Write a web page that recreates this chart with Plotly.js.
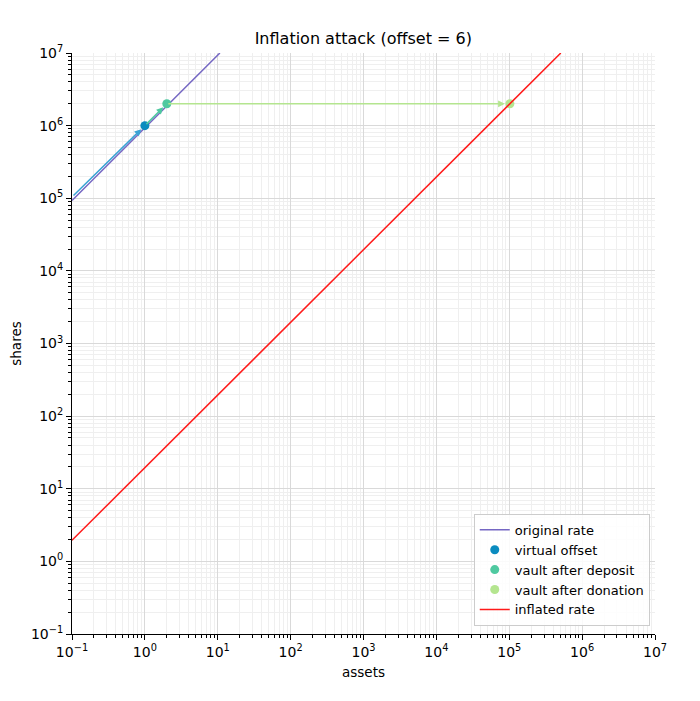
<!DOCTYPE html>
<html>
<head>
<meta charset="utf-8">
<script src="https://cdn.plot.ly/plotly-3.0.1.min.js"></script>
<style>html,body{margin:0;padding:0;background:#fff;}#chart{width:700px;height:701px;}</style>
</head>
<body>
<div id="chart"></div>
<script>
// ---- data ----
const origAssets = [0.1, 10.7];
const origShares = [0.93e5, 1e7];
const inflAssets = [0.1, 5.1e5];
const inflShares = [1.95, 1e7];
const offsetPt = {assets: [1], shares: [1e6]};
const depositPt = {assets: [2], shares: [2e6]};
const donationPt = {assets: [1.02e5], shares: [2e6]};
const arrowStart = {assets: 0.1, shares: 1.04e5};
const tickExp = [-1, 0, 1, 2, 3, 4, 5, 6, 7];
const tickVals = tickExp.map(e => Math.pow(10, e));
const tickText = tickExp.map(e => '10<sup>' + (e < 0 ? '\u2212' + (-e) : e) + '</sup>');

const C = {
  orig: '#7567c3', offset: '#0a8bbf', deposit: '#4fc9a0', donation: '#b4e58f',
  infl: '#ff1a1a', arrowBlue: '#3aa3d4'
};

const traces = [
  {x: origAssets, y: origShares, mode: 'lines', name: 'original rate', line: {color: C.orig, width: 1.5}},
  {x: offsetPt.assets, y: offsetPt.shares, mode: 'markers', name: 'virtual offset', marker: {color: C.offset, size: 9}},
  {x: depositPt.assets, y: depositPt.shares, mode: 'markers', name: 'vault after deposit', marker: {color: C.deposit, size: 9}},
  {x: donationPt.assets, y: donationPt.shares, mode: 'markers', name: 'vault after donation', marker: {color: C.donation, size: 9}},
  {x: inflAssets, y: inflShares, mode: 'lines', name: 'inflated rate', line: {color: C.infl, width: 1.5}}
];

const L = Math.log10;
function arrow(x0, y0, x1, y1, color) {
  return {x: L(x1), y: L(y1), ax: L(x0), ay: L(y0), xref: 'x', yref: 'y', axref: 'x', ayref: 'y',
    showarrow: true, arrowhead: 2, arrowsize: 0.9, arrowwidth: 1.5, arrowcolor: color, standoff: 5, text: ''};
}

const axisCommon = {
  type: 'log', tickmode: 'array', tickvals: tickVals, ticktext: tickText,
  showgrid: true, gridcolor: '#d9d9d9', gridwidth: 1,
  ticks: 'outside', ticklen: 5, tickwidth: 1, tickcolor: '#000',
  showline: true, linecolor: '#000', linewidth: 1, zeroline: false,
  tickfont: {family: 'DejaVu Sans', size: 14, color: '#000'},
  minor: {dtick: 'D1', showgrid: true, gridcolor: '#efefef', gridwidth: 1, ticks: 'outside', ticklen: 3, tickcolor: '#000'}
};

const layout = {
  width: 700, height: 701,
  margin: {l: 72, r: 45, t: 53, b: 67},
  paper_bgcolor: '#fff', plot_bgcolor: '#fff',
  font: {family: 'DejaVu Sans', color: '#000'},
  title: {text: 'Inflation attack (offset = 6)', font: {family: 'DejaVu Sans', size: 16, color: '#000'}, x: 0.519, xanchor: 'center', y: 0.945, yanchor: 'middle'},
  xaxis: Object.assign({}, axisCommon, {range: [-1, 7], title: {text: 'assets', font: {size: 13.5}, standoff: 8}}),
  yaxis: Object.assign({}, axisCommon, {range: [-1, 7], title: {text: 'shares', font: {size: 13.5}, standoff: 6}}),
  legend: {x: 0.991, y: 0.014, xanchor: 'right', yanchor: 'bottom', bgcolor: 'rgba(255,255,255,0.85)', bordercolor: '#cccccc', borderwidth: 1,
    font: {family: 'DejaVu Sans', size: 13, color: '#000'}, tracegroupgap: 0, itemwidth: 30},
  showlegend: true,
  annotations: [
    arrow(arrowStart.assets, arrowStart.shares, offsetPt.assets[0], offsetPt.shares[0], C.arrowBlue),
    arrow(offsetPt.assets[0], offsetPt.shares[0], depositPt.assets[0], depositPt.shares[0], C.deposit),
    arrow(depositPt.assets[0], depositPt.shares[0], donationPt.assets[0], donationPt.shares[0], C.donation)
  ]
};

Plotly.newPlot('chart', traces, layout, {displayModeBar: false, staticPlot: true});
</script>
</body>
</html>
